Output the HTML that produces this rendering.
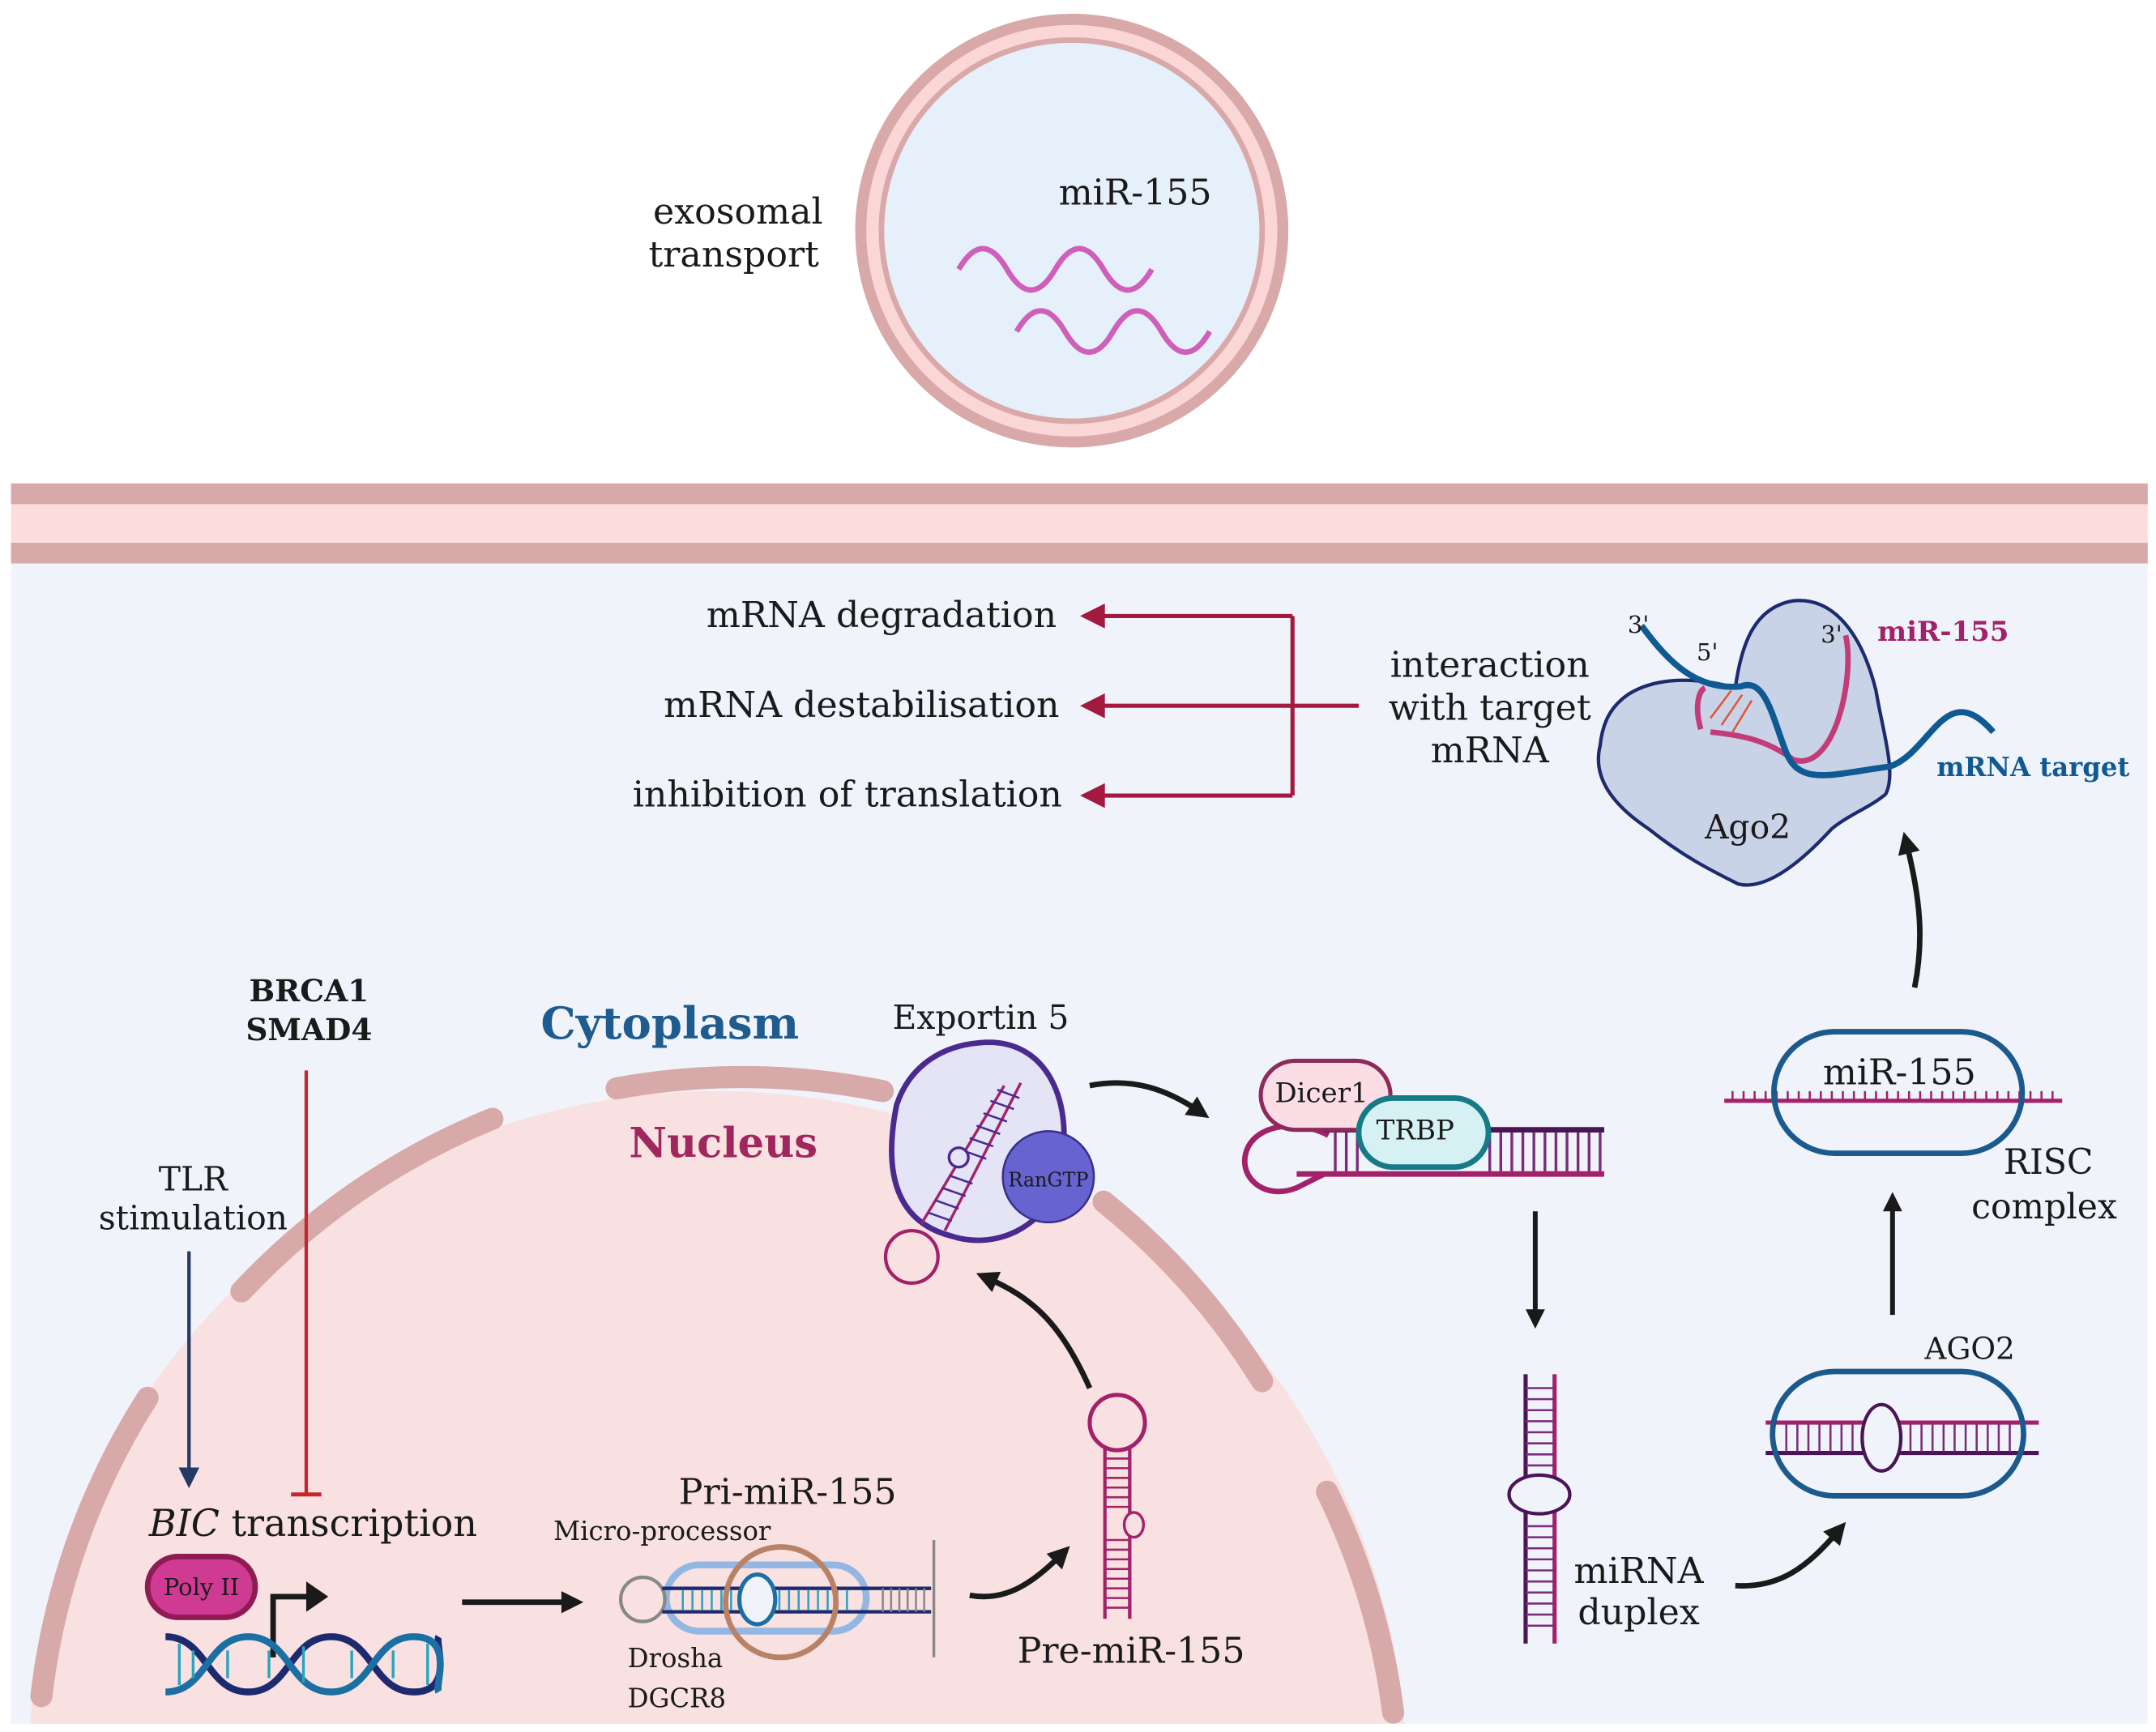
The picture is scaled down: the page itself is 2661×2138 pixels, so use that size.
<!DOCTYPE html>
<html><head><meta charset="utf-8"><style>
html,body{margin:0;padding:0;background:#fff;width:2661px;height:2138px;overflow:hidden;}
svg{display:block;position:absolute;left:0;top:0;}
text{font-family:"DejaVu Serif","Liberation Serif",serif;fill:#1a1a1a;}
</style></head><body>
<svg width="2661" height="2138" viewBox="0 0 1563 1254" preserveAspectRatio="none" xmlns="http://www.w3.org/2000/svg">
<defs>
<marker id="ab" viewBox="0 0 10 10" refX="5" refY="5" markerWidth="4" markerHeight="4" orient="auto" style="overflow:visible"><path d="M0,0L10,5L0,10z" fill="#1a1a1a"/></marker>
<marker id="ar" viewBox="0 0 10 10" refX="5" refY="5" markerWidth="6" markerHeight="6" orient="auto" style="overflow:visible"><path d="M0,0L10,5L0,10z" fill="#a3193f"/></marker>
<marker id="an" viewBox="0 0 10 10" refX="5" refY="5" markerWidth="6" markerHeight="6" orient="auto" style="overflow:visible"><path d="M0,0L10,5L0,10z" fill="#243a66"/></marker>
<clipPath id="cell"><rect x="8" y="408" width="1549" height="840"/></clipPath>
</defs>
<rect width="1563" height="1254" fill="#fff"/>
<!-- exosome -->
<circle cx="777" cy="167" r="153" fill="#fbd6d6" stroke="#d9a8a8" stroke-width="8"/>
<circle cx="777" cy="167" r="138" fill="#e6f0fb" stroke="#d9a8a8" stroke-width="4"/>
<text x="823" y="148" font-size="26" text-anchor="middle">miR-155</text>
<path d="M695,195 q17.5,-30 35,0 t35,0 t35,0 t35,0" fill="none" stroke="#cf5fb8" stroke-width="4"/>
<path d="M737,240 q17.5,-30 35,0 t35,0 t35,0 t35,0" fill="none" stroke="#cf5fb8" stroke-width="4"/>
<text x="535" y="162" font-size="26" text-anchor="middle">exosomal</text>
<text x="532" y="193" font-size="26" text-anchor="middle">transport</text>
<!-- membrane -->
<rect x="8" y="350" width="1549" height="58" fill="#fcdcdc"/>
<rect x="8" y="350" width="1549" height="15" fill="#d7a9a9"/>
<rect x="8" y="393" width="1549" height="15" fill="#d7a9a9"/>
<!-- cell -->
<rect x="8" y="408" width="1549" height="840" fill="#f0f4fa"/>
<g clip-path="url(#cell)">
<circle cx="520" cy="1290" r="500" fill="#f9e1e1"/>
<g fill="none" stroke="#d8a9a9" stroke-width="16" stroke-linecap="round">
<path d="M30,1228 A512,512 0 0 1 107,1012"/>
<path d="M175,935 A512,512 0 0 1 357,810"/>
<path d="M447,788 A512,512 0 0 1 640,790"/>
<path d="M800,870 A512,512 0 0 1 915,1000"/>
<path d="M962,1080 A512,512 0 0 1 1010,1240"/>
</g>
</g>
<!-- labels -->
<text x="392" y="752" font-size="32" font-weight="bold" style="fill:#1e5b8e">Cytoplasm</text>
<text x="456" y="838" font-size="30" font-weight="bold" style="fill:#a0265e">Nucleus</text>
<text x="224" y="725" font-size="22" font-weight="bold" text-anchor="middle">BRCA1</text>
<text x="224" y="753" font-size="22" font-weight="bold" text-anchor="middle">SMAD4</text>
<text x="140" y="862" font-size="24" text-anchor="middle">TLR</text>
<text x="140" y="890" font-size="24" text-anchor="middle">stimulation</text>
<line x1="137" y1="906" x2="137" y2="1070" stroke="#243a66" stroke-width="2.5" marker-end="url(#an)"/>
<line x1="222" y1="775" x2="222" y2="1082" stroke="#c3272f" stroke-width="2.5"/>
<line x1="211" y1="1082" x2="233" y2="1082" stroke="#c3272f" stroke-width="3"/>
<text x="108" y="1112" font-size="27"><tspan font-style="italic">BIC</tspan> transcription</text>
<!-- Poly II + DNA -->
<rect x="107" y="1127" width="78" height="44" rx="22" fill="#cf3a93" stroke="#8e1b53" stroke-width="4"/>
<text x="146" y="1155" font-size="17" text-anchor="middle">Poly II</text>
<path d="M198,1200 V1156 H225" fill="none" stroke="#1a1a1a" stroke-width="4"/>
<path d="M222,1145 L238,1156 L222,1167z" fill="#1a1a1a"/>
<g fill="none" stroke-width="5">
<path d="M120,1185 C150,1185 150,1225 180,1225 S210,1185 240,1185 S270,1225 300,1225 S315,1190 318,1185" stroke="#1d2b6e"/>
<path d="M120,1225 C150,1225 150,1185 180,1185 S210,1225 240,1225 S270,1185 300,1185 S315,1220 318,1225" stroke="#1c6fa3"/>
</g>
<g stroke="#2aa2c0" stroke-width="2">
<line x1="130" y1="1190" x2="130" y2="1220"/><line x1="140" y1="1195" x2="140" y2="1215"/><line x1="165" y1="1195" x2="165" y2="1215"/><line x1="195" y1="1195" x2="195" y2="1215"/><line x1="220" y1="1192" x2="220" y2="1218"/><line x1="255" y1="1195" x2="255" y2="1215"/><line x1="285" y1="1195" x2="285" y2="1215"/><line x1="310" y1="1190" x2="310" y2="1220"/>
</g>
<line x1="335" y1="1160" x2="415" y2="1160" stroke="#1a1a1a" stroke-width="4" marker-end="url(#ab)"/>
<!-- Pri-miR -->
<text x="571" y="1089" font-size="26" text-anchor="middle">Pri-miR-155</text>
<text x="480" y="1115" font-size="19" text-anchor="middle">Micro-processor</text>
<rect x="483" y="1133" width="145" height="48" rx="24" fill="none" stroke="#93b7e3" stroke-width="5"/>
<circle cx="466" cy="1158" r="16" fill="none" stroke="#888" stroke-width="2.5"/>
<g stroke="#1d2b6e" stroke-width="2.5"><line x1="480" y1="1150" x2="675" y2="1150"/><line x1="480" y1="1167" x2="675" y2="1167"/></g>
<g stroke="#2aa2c0" stroke-width="1.5">
<line x1="495" y1="1151" x2="495" y2="1166"/><line x1="502" y1="1151" x2="502" y2="1166"/><line x1="509" y1="1151" x2="509" y2="1166"/><line x1="516" y1="1151" x2="516" y2="1166"/><line x1="523" y1="1151" x2="523" y2="1166"/><line x1="530" y1="1151" x2="530" y2="1166"/>
<line x1="565" y1="1151" x2="565" y2="1166"/><line x1="572" y1="1151" x2="572" y2="1166"/><line x1="579" y1="1151" x2="579" y2="1166"/><line x1="586" y1="1151" x2="586" y2="1166"/><line x1="593" y1="1151" x2="593" y2="1166"/><line x1="600" y1="1151" x2="600" y2="1166"/><line x1="607" y1="1151" x2="607" y2="1166"/><line x1="614" y1="1151" x2="614" y2="1166"/>
</g>
<g stroke="#888" stroke-width="1.5"><line x1="640" y1="1150" x2="640" y2="1167"/><line x1="646" y1="1150" x2="646" y2="1167"/><line x1="652" y1="1150" x2="652" y2="1167"/><line x1="658" y1="1150" x2="658" y2="1167"/><line x1="664" y1="1150" x2="664" y2="1167"/><line x1="670" y1="1150" x2="670" y2="1167"/></g>
<line x1="677" y1="1115" x2="677" y2="1200" stroke="#888" stroke-width="2"/>
<ellipse cx="549" cy="1158" rx="13" ry="18" fill="#f0f4fa" stroke="#1c6fa3" stroke-width="3"/>
<circle cx="566" cy="1160" r="40" fill="none" stroke="#b88266" stroke-width="4"/>
<text x="455" y="1207" font-size="19">Drosha</text>
<text x="455" y="1236" font-size="19">DGCR8</text>
<path d="M703,1155 C730,1160 750,1145 770,1125" fill="none" stroke="#1a1a1a" stroke-width="4" marker-end="url(#ab)"/>
<!-- Pre-miR -->
<circle cx="810" cy="1030" r="20" fill="#f9e1e1" stroke="#a3216a" stroke-width="3"/>
<g stroke="#a3216a" stroke-width="2.5"><line x1="801" y1="1048" x2="801" y2="1172"/><line x1="819" y1="1048" x2="819" y2="1172"/></g>
<g stroke="#a3216a" stroke-width="1.5">
<line x1="801" y1="1056" x2="819" y2="1056"/><line x1="801" y1="1063" x2="819" y2="1063"/><line x1="801" y1="1070" x2="819" y2="1070"/><line x1="801" y1="1077" x2="819" y2="1077"/><line x1="801" y1="1084" x2="819" y2="1084"/><line x1="801" y1="1091" x2="819" y2="1091"/>
<line x1="801" y1="1115" x2="819" y2="1115"/><line x1="801" y1="1122" x2="819" y2="1122"/><line x1="801" y1="1129" x2="819" y2="1129"/><line x1="801" y1="1136" x2="819" y2="1136"/><line x1="801" y1="1143" x2="819" y2="1143"/><line x1="801" y1="1150" x2="819" y2="1150"/><line x1="801" y1="1157" x2="819" y2="1157"/><line x1="801" y1="1164" x2="819" y2="1164"/>
</g>
<ellipse cx="822" cy="1104" rx="7" ry="9" fill="#f9e1e1" stroke="#a3216a" stroke-width="2"/>
<text x="820" y="1204" font-size="26" text-anchor="middle">Pre-miR-155</text>
<path d="M790,1005 C770,960 750,940 715,925" fill="none" stroke="#1a1a1a" stroke-width="4" marker-end="url(#ab)"/>
<!-- Exportin 5 -->
<text x="711" y="745" font-size="24" text-anchor="middle">Exportin 5</text>
<path d="M710,755 C760,750 780,800 768,850 C760,890 720,905 690,895 C650,885 640,850 650,800 C660,770 685,757 710,755z" fill="#e5e3f6" stroke="#4b2a8f" stroke-width="4"/>
<g stroke="#a3216a" stroke-width="2"><line x1="685" y1="891" x2="740" y2="784"/><line x1="668" y1="886" x2="728" y2="786"/></g>
<g stroke="#4b2a8f" stroke-width="1.5">
<line x1="673" y1="878" x2="690" y2="884"/><line x1="678" y1="869" x2="695" y2="875"/><line x1="683" y1="860" x2="700" y2="866"/><line x1="688" y1="851" x2="705" y2="857"/><line x1="698" y1="833" x2="715" y2="839"/><line x1="703" y1="824" x2="720" y2="830"/><line x1="708" y1="815" x2="725" y2="821"/><line x1="713" y1="806" x2="730" y2="812"/><line x1="718" y1="797" x2="735" y2="803"/><line x1="723" y1="789" x2="739" y2="795"/></g>
<circle cx="695" cy="838" r="7" fill="#e5e3f6" stroke="#4b2a8f" stroke-width="2"/>
<circle cx="661" cy="910" r="19" fill="none" stroke="#a3216a" stroke-width="2.5"/>
<circle cx="760" cy="852" r="33" fill="#6763d0" stroke="#3a2f8a" stroke-width="1.5"/>
<text x="760" y="859" font-size="14" text-anchor="middle">RanGTP</text>
<path d="M790,786 C820,780 845,788 870,805" fill="none" stroke="#1a1a1a" stroke-width="4" marker-end="url(#ab)"/>
<!-- Dicer -->
<path d="M963,822 C945,812 915,812 905,830 C895,850 915,870 940,860 L960,850" fill="none" stroke="#a3216a" stroke-width="4"/>
<line x1="960" y1="818" x2="1163" y2="818" stroke="#4a1456" stroke-width="4"/>
<line x1="940" y1="850" x2="1163" y2="850" stroke="#a3216a" stroke-width="4"/>
<g stroke="#7a2c7a" stroke-width="2">
<line x1="968" y1="820" x2="968" y2="848"/><line x1="976" y1="820" x2="976" y2="848"/><line x1="984" y1="820" x2="984" y2="848"/><line x1="1080" y1="820" x2="1080" y2="848"/><line x1="1088" y1="820" x2="1088" y2="848"/><line x1="1096" y1="820" x2="1096" y2="848"/><line x1="1104" y1="820" x2="1104" y2="848"/><line x1="1112" y1="820" x2="1112" y2="848"/><line x1="1120" y1="820" x2="1120" y2="848"/><line x1="1128" y1="820" x2="1128" y2="848"/><line x1="1136" y1="820" x2="1136" y2="848"/><line x1="1144" y1="820" x2="1144" y2="848"/><line x1="1152" y1="820" x2="1152" y2="848"/><line x1="1160" y1="820" x2="1160" y2="848"/></g>
<rect x="914" y="768" width="94" height="50" rx="25" fill="#fbdde6" stroke="#8e2a5a" stroke-width="3"/>
<text x="958" y="798" font-size="20" text-anchor="middle">Dicer1</text>
<rect x="985" y="795" width="94" height="50" rx="25" fill="#d6f1f4" stroke="#167b86" stroke-width="4"/>
<text x="1026" y="825" font-size="20" text-anchor="middle">TRBP</text>
<line x1="1113" y1="877" x2="1113" y2="955" stroke="#1a1a1a" stroke-width="3.5" marker-end="url(#ab)"/>
<!-- miRNA duplex -->
<line x1="1106" y1="995" x2="1106" y2="1190" stroke="#4a1456" stroke-width="3"/>
<line x1="1127" y1="995" x2="1127" y2="1190" stroke="#a3216a" stroke-width="3"/>
<g stroke="#7a2c7a" stroke-width="1.5">
<line x1="1106" y1="1005" x2="1127" y2="1005"/><line x1="1106" y1="1013" x2="1127" y2="1013"/><line x1="1106" y1="1021" x2="1127" y2="1021"/><line x1="1106" y1="1029" x2="1127" y2="1029"/><line x1="1106" y1="1037" x2="1127" y2="1037"/><line x1="1106" y1="1045" x2="1127" y2="1045"/><line x1="1106" y1="1053" x2="1127" y2="1053"/><line x1="1106" y1="1061" x2="1127" y2="1061"/>
<line x1="1106" y1="1105" x2="1127" y2="1105"/><line x1="1106" y1="1113" x2="1127" y2="1113"/><line x1="1106" y1="1121" x2="1127" y2="1121"/><line x1="1106" y1="1129" x2="1127" y2="1129"/><line x1="1106" y1="1137" x2="1127" y2="1137"/><line x1="1106" y1="1145" x2="1127" y2="1145"/><line x1="1106" y1="1153" x2="1127" y2="1153"/><line x1="1106" y1="1161" x2="1127" y2="1161"/><line x1="1106" y1="1169" x2="1127" y2="1169"/><line x1="1106" y1="1177" x2="1127" y2="1177"/></g>
<ellipse cx="1116" cy="1082" rx="22" ry="14" fill="#f0f4fa" stroke="#4a1456" stroke-width="2.5"/>
<text x="1188" y="1146" font-size="26" text-anchor="middle">miRNA</text>
<text x="1188" y="1176" font-size="26" text-anchor="middle">duplex</text>
<path d="M1258,1148 C1290,1150 1310,1135 1333,1108" fill="none" stroke="#1a1a1a" stroke-width="4" marker-end="url(#ab)"/>
<!-- AGO2 -->
<text x="1428" y="984" font-size="22" text-anchor="middle">AGO2</text>
<line x1="1280" y1="1030" x2="1478" y2="1030" stroke="#a3216a" stroke-width="3"/>
<line x1="1280" y1="1052" x2="1478" y2="1052" stroke="#4a1456" stroke-width="3"/>
<g stroke="#7a2c7a" stroke-width="1.5">
<line x1="1295" y1="1031" x2="1295" y2="1051"/><line x1="1303" y1="1031" x2="1303" y2="1051"/><line x1="1311" y1="1031" x2="1311" y2="1051"/><line x1="1319" y1="1031" x2="1319" y2="1051"/><line x1="1327" y1="1031" x2="1327" y2="1051"/><line x1="1335" y1="1031" x2="1335" y2="1051"/><line x1="1343" y1="1031" x2="1343" y2="1051"/>
<line x1="1385" y1="1031" x2="1385" y2="1051"/><line x1="1393" y1="1031" x2="1393" y2="1051"/><line x1="1401" y1="1031" x2="1401" y2="1051"/><line x1="1409" y1="1031" x2="1409" y2="1051"/><line x1="1417" y1="1031" x2="1417" y2="1051"/><line x1="1425" y1="1031" x2="1425" y2="1051"/><line x1="1433" y1="1031" x2="1433" y2="1051"/><line x1="1441" y1="1031" x2="1441" y2="1051"/><line x1="1449" y1="1031" x2="1449" y2="1051"/><line x1="1457" y1="1031" x2="1457" y2="1051"/></g>
<ellipse cx="1364" cy="1041" rx="14" ry="24" fill="#f0f4fa" stroke="#4a1456" stroke-width="2.5"/>
<rect x="1285" y="993" width="182" height="90" rx="45" fill="none" stroke="#1c5a8e" stroke-width="4"/>
<line x1="1372" y1="952" x2="1372" y2="870" stroke="#1a1a1a" stroke-width="3.5" marker-end="url(#ab)"/>
<!-- RISC -->
<line x1="1250" y1="797" x2="1495" y2="797" stroke="#a3216a" stroke-width="3"/>
<g stroke="#a3216a" stroke-width="1.5">
<line x1="1256" y1="790" x2="1256" y2="797"/><line x1="1264" y1="790" x2="1264" y2="797"/><line x1="1272" y1="790" x2="1272" y2="797"/><line x1="1280" y1="790" x2="1280" y2="797"/><line x1="1288" y1="790" x2="1288" y2="797"/><line x1="1296" y1="790" x2="1296" y2="797"/><line x1="1304" y1="790" x2="1304" y2="797"/><line x1="1312" y1="790" x2="1312" y2="797"/><line x1="1320" y1="790" x2="1320" y2="797"/><line x1="1328" y1="790" x2="1328" y2="797"/><line x1="1336" y1="790" x2="1336" y2="797"/><line x1="1344" y1="790" x2="1344" y2="797"/><line x1="1352" y1="790" x2="1352" y2="797"/><line x1="1360" y1="790" x2="1360" y2="797"/><line x1="1368" y1="790" x2="1368" y2="797"/><line x1="1376" y1="790" x2="1376" y2="797"/><line x1="1384" y1="790" x2="1384" y2="797"/><line x1="1392" y1="790" x2="1392" y2="797"/><line x1="1400" y1="790" x2="1400" y2="797"/><line x1="1408" y1="790" x2="1408" y2="797"/><line x1="1416" y1="790" x2="1416" y2="797"/><line x1="1424" y1="790" x2="1424" y2="797"/><line x1="1432" y1="790" x2="1432" y2="797"/><line x1="1440" y1="790" x2="1440" y2="797"/><line x1="1448" y1="790" x2="1448" y2="797"/><line x1="1456" y1="790" x2="1456" y2="797"/><line x1="1464" y1="790" x2="1464" y2="797"/><line x1="1472" y1="790" x2="1472" y2="797"/><line x1="1480" y1="790" x2="1480" y2="797"/><line x1="1488" y1="790" x2="1488" y2="797"/></g>
<rect x="1286" y="747" width="180" height="88" rx="44" fill="none" stroke="#1c5a8e" stroke-width="4"/>
<text x="1377" y="785" font-size="26" text-anchor="middle">miR-155</text>
<text x="1485" y="850" font-size="25" text-anchor="middle">RISC</text>
<text x="1482" y="882" font-size="25" text-anchor="middle">complex</text>
<path d="M1388,715 C1395,680 1392,650 1382,610" fill="none" stroke="#1a1a1a" stroke-width="4" marker-end="url(#ab)"/>
<!-- Ago2 -->
<path d="M1180,503 C1200,490 1230,490 1258,498 C1262,470 1270,440 1300,435 C1330,432 1350,460 1360,500 C1365,530 1375,560 1367,575 C1355,585 1340,590 1328,600 C1305,625 1280,645 1260,640 C1240,630 1220,620 1195,600 C1165,580 1155,560 1160,540 C1162,520 1170,510 1180,503z" fill="#c9d3e8" stroke="#1d2b6e" stroke-width="2.5"/>
<text x="1267" y="607" font-size="24" text-anchor="middle">Ago2</text>
<path d="M1233,528 C1228,510 1232,500 1236,498 M1240,530 C1260,532 1280,535 1300,550 C1330,560 1345,490 1338,460" fill="none" stroke="#c33c7a" stroke-width="4"/>
<path d="M1190,453 C1210,480 1230,500 1262,497 C1280,490 1285,520 1295,545 C1305,570 1330,560 1370,555 C1400,545 1410,490 1445,530" fill="none" stroke="#0f5a92" stroke-width="4.5"/>
<g stroke="#e2553a" stroke-width="1.5"><line x1="1240" y1="520" x2="1255" y2="500"/><line x1="1248" y1="525" x2="1263" y2="503"/><line x1="1256" y1="530" x2="1270" y2="507"/></g>
<text x="1180" y="458" font-size="17">3'</text>
<text x="1230" y="478" font-size="17">5'</text>
<text x="1320" y="465" font-size="17">3'</text>
<text x="1361" y="464" font-size="20" font-weight="bold" style="fill:#a3216a">miR-155</text>
<text x="1404" y="562" font-size="19" font-weight="bold" style="fill:#0f5a92">mRNA target</text>
<!-- interaction -->
<text x="1080" y="490" font-size="26" text-anchor="middle">interaction</text>
<text x="1080" y="521" font-size="26" text-anchor="middle">with target</text>
<text x="1080" y="552" font-size="26" text-anchor="middle">mRNA</text>
<g stroke="#a3193f" stroke-width="3" fill="none">
<line x1="985" y1="511" x2="937" y2="511"/>
<line x1="937" y1="446" x2="937" y2="576"/>
<line x1="937" y1="446" x2="792" y2="446" marker-end="url(#ar)"/>
<line x1="937" y1="511" x2="792" y2="511" marker-end="url(#ar)"/>
<line x1="937" y1="576" x2="792" y2="576" marker-end="url(#ar)"/>
</g>
<text x="766" y="454" font-size="26" text-anchor="end">mRNA degradation</text>
<text x="768" y="519" font-size="26" text-anchor="end">mRNA destabilisation</text>
<text x="770" y="584" font-size="26" text-anchor="end">inhibition of translation</text>
</svg>
</body></html>
